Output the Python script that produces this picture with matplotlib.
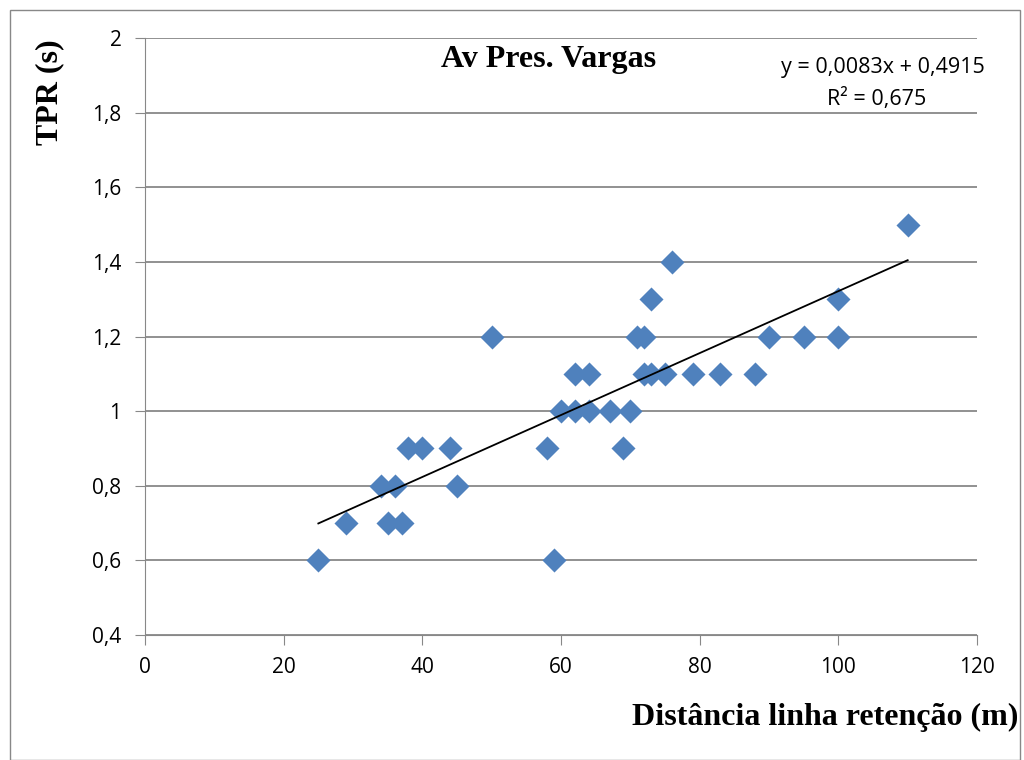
import numpy as np
import matplotlib.pyplot as plt
from matplotlib.patches import Rectangle

# distance to retention line (m) and TPR (s)
dist = [25, 29, 34, 35, 36, 37, 38, 40, 44, 45, 50, 58, 59, 60, 62, 62,
        64, 64, 67, 69, 70, 71, 72, 72, 73, 73, 75, 76, 79, 83, 88, 90,
        95, 100, 100, 110]
tpr = [0.6, 0.7, 0.8, 0.7, 0.8, 0.7, 0.9, 0.9, 0.9, 0.8, 1.2, 0.9, 0.6, 1.0, 1.1, 1.0,
       1.1, 1.0, 1.0, 0.9, 1.0, 1.2, 1.1, 1.2, 1.3, 1.1, 1.1, 1.4, 1.1, 1.1, 1.1, 1.2,
       1.2, 1.3, 1.2, 1.5]

slope, intercept = 0.0083, 0.4915
x_ticks = [0, 20, 40, 60, 80, 100, 120]
y_ticks = [0.4, 0.6, 0.8, 1.0, 1.2, 1.4, 1.6, 1.8, 2.0]

fig = plt.figure(figsize=(10.24, 7.6), dpi=100)
fig.patches.append(Rectangle((10 / 1024, 0), 1010 / 1024, 1 - 10 / 760,
                             transform=fig.transFigure, fill=False,
                             edgecolor="#888888", linewidth=1))
ax = fig.add_axes([145 / 1024, 1 - 635 / 760, 832 / 1024, 597 / 760])

ax.scatter(dist, tpr, marker="D", s=150, color="#4F81BD", zorder=3, linewidths=0)
xs = np.array([min(dist), max(dist)])
ax.plot(xs, slope * xs + intercept, color="black", lw=1.3, zorder=4)

ax.set_xlim(0, 120)
ax.set_ylim(0.4, 2.0)
ax.set_xticks(x_ticks)
ax.set_yticks(y_ticks)
ax.set_xticklabels([str(v) for v in x_ticks])
ax.set_yticklabels([f"{v:g}".replace(".", ",") for v in y_ticks])
ax.grid(axis="y", color="#888888", lw=1.3)
ax.set_axisbelow(True)
for s in ["top", "right"]:
    ax.spines[s].set_visible(False)
for s in ["left", "bottom"]:
    ax.spines[s].set_color("#888888")
ax.tick_params(colors="#888888", labelcolor="black", length=7, labelsize=15,
               direction="out")
ax.tick_params(axis="x", pad=9)
ax.tick_params(axis="y", pad=10)
for lab in ax.get_xticklabels() + ax.get_yticklabels():
    lab.set_family("Open Sans")

fig.text(549 / 1024, 1 - 60 / 760, "Av Pres. Vargas", family="Liberation Serif",
         weight="bold", fontsize=23, ha="center", va="center")
fig.text(985 / 1024, 1 - 68 / 760, "y = 0,0083x + 0,4915", family="Open Sans",
         fontsize=15.5, ha="right", va="center")
fig.text(877 / 1024, 1 - 99 / 760, "R² = 0,675", family="Open Sans",
         fontsize=15.5, ha="center", va="center")
fig.text(50 / 1024, 1 - 92 / 760, "TPR (s)", family="Liberation Serif",
         weight="bold", fontsize=23, ha="center", va="center", rotation=90)
fig.text(1018 / 1024, 1 - 717 / 760, "Distância linha retenção (m)",
         family="Liberation Serif", weight="bold", fontsize=23, ha="right", va="center")

fig.savefig("out.png", dpi=100)
